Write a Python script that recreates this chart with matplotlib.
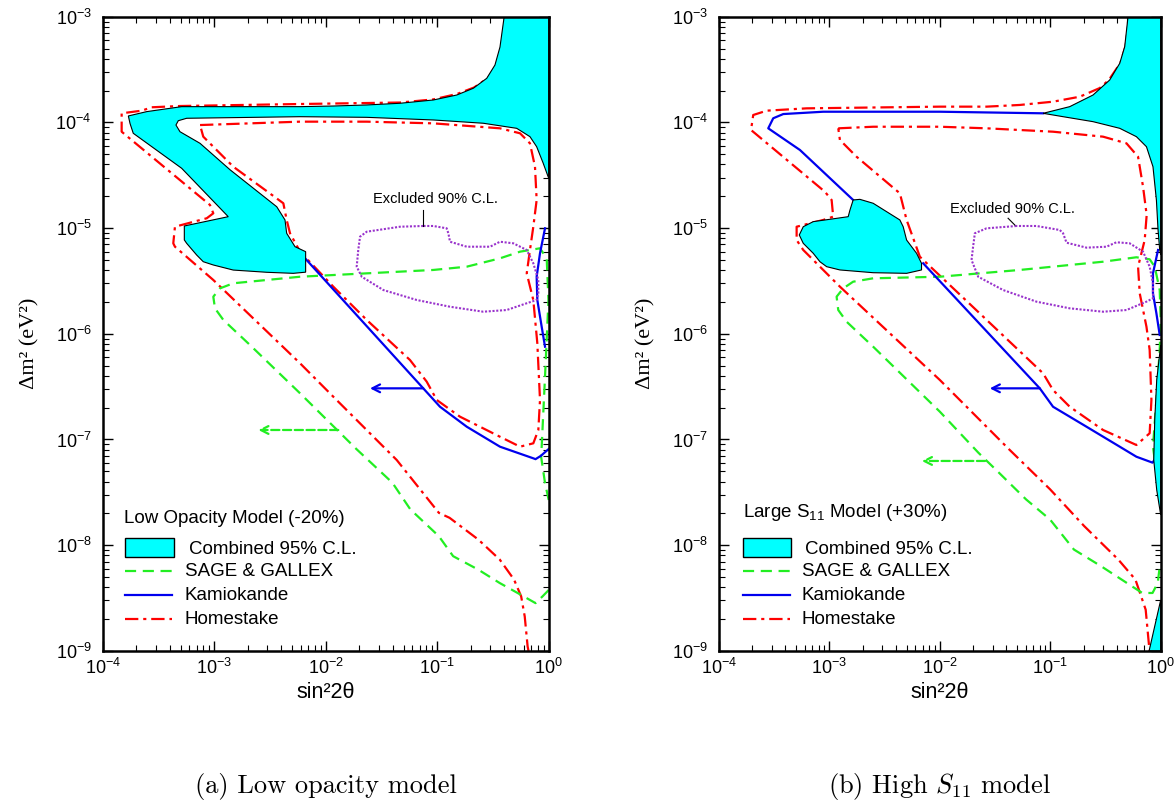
import numpy as np
import matplotlib
matplotlib.use("Agg")
import matplotlib.pyplot as plt
from matplotlib.patches import Rectangle
from matplotlib.lines import Line2D
from matplotlib.ticker import LogLocator, NullFormatter

plt.rcParams['font.family'] = ['Liberation Sans', 'DejaVu Sans']

# ---------------- data: (log10 sin^2 2theta, log10 dm^2 [eV^2]) ----------------
# Panel (a): low opacity model
A_COMBINED = [(-0.401,-3.0),(0.0,-3.0),(0.0,-4.529),(-0.049,-4.387),(-0.108,-4.230),(-0.168,-4.135),
              (-0.287,-4.056),(-0.587,-4.008),(-1.035,-3.977),(-1.632,-3.952),(-2.230,-3.946),(-3.247,-3.961),
              (-3.322,-3.984),(-3.343,-4.025),(-3.307,-4.088),(-3.127,-4.198),(-2.858,-4.448),(-2.439,-4.798),
              (-2.365,-4.923),(-2.350,-5.049),(-2.275,-5.176),(-2.180,-5.223),(-2.180,-5.417),(-2.291,-5.428),
              (-2.529,-5.418),(-2.829,-5.397),(-3.008,-5.349),(-3.098,-5.318),(-3.157,-5.255),(-3.247,-5.144),
              (-3.268,-5.112),(-3.268,-4.980),(-2.874,-4.892),(-3.292,-4.434),(-3.726,-4.103),(-3.755,-4.010),
              (-3.770,-3.939),(-3.605,-3.898),(-3.292,-3.851),(-2.230,-3.851),(-1.932,-3.845),(-1.632,-3.835),
              (-1.334,-3.819),(-1.035,-3.788),(-0.825,-3.741),(-0.676,-3.677),(-0.556,-3.583),(-0.482,-3.457),
              (-0.437,-3.287),(-0.401,-3.012)]
A_HOME_OUTER = [(-0.365,-3.0),(-0.410,-3.287),(-0.464,-3.457),(-0.544,-3.580),(-0.670,-3.670),(-0.822,-3.731),
                (-1.038,-3.783),(-1.334,-3.812),(-2.230,-3.826),(-3.307,-3.845),(-3.561,-3.857),(-3.650,-3.889),
                (-3.830,-3.914),(-3.830,-4.088),(-3.770,-4.141),(-3.038,-4.781),(-3.008,-4.860),(-3.067,-4.907),
                (-3.352,-4.987),(-3.367,-5.144),(-3.352,-5.176),(-3.008,-5.491),(-2.230,-6.279),(-1.932,-6.595),
                (-1.363,-7.194),(-0.985,-7.694),(-0.889,-7.741),(-0.632,-7.946),(-0.439,-8.136),(-0.311,-8.325),
                (-0.247,-8.484),(-0.215,-8.674),(-0.189,-8.958),(-0.181,-9.0)]
A_HOME_INNER = [(-3.127,-4.025),(-2.230,-3.993),(-1.632,-3.993),(-1.035,-4.009),(-0.437,-4.056),(-0.257,-4.103),
                (-0.168,-4.198),(-0.123,-4.419),(-0.108,-4.734),(-0.138,-4.987),(-0.168,-5.207),(-0.197,-5.428),
                (-0.138,-5.680),(-0.102,-6.090),(-0.078,-6.626),(-0.093,-6.910),(-0.138,-7.036),(-0.257,-7.068),
                (-0.437,-6.974),(-0.796,-6.784),(-1.004,-6.626),(-1.094,-6.453),(-1.244,-6.248),(-1.632,-5.869),
                (-1.932,-5.554),(-2.230,-5.223),(-2.320,-5.049),(-2.350,-4.923),(-2.380,-4.765),(-2.829,-4.419),
                (-3.098,-4.135),(-3.127,-4.025)]
A_KAM_MAIN = [(-2.204,-5.264),(-1.125,-6.516),(-0.975,-6.690),(-0.735,-6.879),(-0.437,-7.068),(-0.138,-7.178),
              (-0.118,-7.186),(-0.071,-7.155),(0.0,-7.090)]
A_KAM_RIGHT = [(-0.033,-5.002),(-0.078,-5.238),(-0.108,-5.460),(-0.102,-5.680),(-0.063,-5.933),(-0.033,-6.122)]
A_KAM_ARROW = [(-1.125,-6.516),(-1.603,-6.516)]
A_GALLIUM = [(0.0,-8.424),(-0.055,-8.484),(-0.118,-8.548),(-0.279,-8.452),(-0.439,-8.358),(-0.632,-8.231),
             (-0.857,-8.104),(-0.985,-7.915),(-1.241,-7.661),(-1.402,-7.409),(-1.723,-7.092),(-2.230,-6.563),
             (-2.679,-6.106),(-2.918,-5.869),(-2.993,-5.759),(-3.008,-5.649),(-2.948,-5.570),(-2.829,-5.522),
             (-2.230,-5.460),(-1.632,-5.428),(-1.035,-5.396),(-0.735,-5.365),(-0.437,-5.286),(-0.257,-5.223),
             (-0.078,-5.191),(-0.018,-5.286),(-0.002,-5.680),(-0.033,-6.406),(-0.063,-7.068),(-0.069,-7.156),
             (-0.033,-7.412),(0.0,-7.572)]
A_GALLIUM_ARROW = [(-1.887,-6.910),(-2.604,-6.910)]
A_EXCLUDED = [(-1.125,-4.980),(-1.334,-4.987),(-1.632,-5.034),(-1.692,-5.081),(-1.708,-5.207),(-1.722,-5.365),
              (-1.677,-5.460),(-1.483,-5.586),(-1.184,-5.680),(-0.885,-5.744),(-0.587,-5.791),(-0.377,-5.775),
              (-0.197,-5.711),(-0.108,-5.680),(-0.093,-5.617),(-0.093,-5.491),(-0.138,-5.333),(-0.197,-5.207),
              (-0.317,-5.144),(-0.437,-5.129),(-0.526,-5.176),(-0.735,-5.176),(-0.885,-5.129),(-0.900,-5.049),
              (-0.915,-5.002),(-1.035,-4.980),(-1.125,-4.980)]
A_EXCL_LABEL = (-1.020, -4.728)
A_EXCL_LEADER = [(-1.125,-4.829),(-1.125,-4.980)]

# Panel (b): high S11 model
B_COMB_UPPER = [(-0.296,-3.0),(0.0,-3.0),(0.0,-5.25),(-0.009,-5.207),(-0.024,-5.018),(-0.039,-4.734),
                (-0.070,-4.419),(-0.129,-4.230),(-0.220,-4.135),(-0.371,-4.056),(-0.613,-3.993),(-0.884,-3.946),
                (-1.065,-3.914),(-0.824,-3.851),(-0.613,-3.741),(-0.462,-3.599),(-0.371,-3.441),(-0.326,-3.284),
                (-0.296,-3.0)]
B_COMB_LOWER = [(-2.785,-4.734),(-2.724,-4.728),(-2.604,-4.765),(-2.362,-4.923),(-2.332,-4.987),(-2.301,-5.113),
                (-2.211,-5.238),(-2.166,-5.333),(-2.166,-5.396),(-2.301,-5.428),(-2.604,-5.422),(-2.905,-5.396),
                (-3.025,-5.365),(-3.086,-5.318),(-3.147,-5.238),(-3.237,-5.144),(-3.273,-5.065),(-3.237,-4.987),
                (-3.147,-4.939),(-2.830,-4.892),(-2.814,-4.829),(-2.785,-4.734)]
B_COMB_SLIVER = [(0.0,-6.106),(-0.036,-6.437),(-0.054,-6.815),(-0.063,-7.194),(-0.036,-7.478),(0.0,-7.714)]
B_COMB_WEDGE = [(-0.105,-9.0),(0.0,-8.518),(0.0,-9.0)]
B_HOME_OUTER = [(-0.285,-3.0),(-0.318,-3.277),(-0.365,-3.438),(-0.470,-3.599),(-0.552,-3.675),(-0.733,-3.757),
                (-0.975,-3.804),(-1.276,-3.835),(-1.577,-3.851),(-2.0,-3.851),(-3.206,-3.867),(-3.568,-3.889),
                (-3.690,-3.930),(-3.710,-4.072),(-3.674,-4.103),(-3.041,-4.656),(-2.980,-4.734),(-2.966,-4.892),
                (-3.056,-4.923),(-3.297,-4.987),(-3.297,-5.113),(-3.237,-5.207),(-2.905,-5.554),(-2.0,-6.437),
                (-1.374,-7.092),(-1.002,-7.471),(-0.693,-7.819),(-0.384,-8.136),(-0.229,-8.325),(-0.136,-8.610),
                (-0.105,-8.958),(-0.100,-9.0)]
B_HOME_INNER = [(-2.920,-4.056),(-2.604,-4.041),(-2.0,-4.041),(-1.577,-4.056),(-0.975,-4.088),(-0.522,-4.135),
                (-0.310,-4.198),(-0.205,-4.325),(-0.160,-4.608),(-0.127,-4.876),(-0.145,-5.113),(-0.205,-5.365),
                (-0.190,-5.617),(-0.129,-5.933),(-0.100,-6.153),(-0.084,-6.626),(-0.100,-6.941),(-0.220,-7.052),
                (-0.522,-6.910),(-0.824,-6.690),(-0.975,-6.532),(-1.065,-6.374),(-2.181,-5.271),(-2.301,-4.923),
                (-2.362,-4.671),(-2.754,-4.325),(-2.905,-4.166),(-2.920,-4.056)]
B_KAM_MAIN = [(-1.065,-3.914),(-2.0,-3.899),(-3.056,-3.899),(-3.418,-3.921),(-3.509,-3.961),(-3.554,-4.056),
              (-3.267,-4.261),(-2.785,-4.734)]
B_KAM_LOWER = [(-2.151,-5.333),(-1.095,-6.516),(-0.975,-6.690),(-0.672,-6.879),(-0.371,-7.068),(-0.220,-7.163),
               (-0.074,-7.219),(-0.045,-7.175)]
B_KAM_RIGHT = [(-0.024,-5.207),(-0.070,-5.428),(-0.070,-5.617),(-0.039,-5.806),(-0.009,-6.011)]
B_KAM_ARROW = [(-1.095,-6.516),(-1.548,-6.516)]
B_GALLIUM = [(-0.012,-8.231),(-0.027,-8.358),(-0.074,-8.452),(-0.167,-8.452),(-0.260,-8.389),(-0.538,-8.200),
             (-0.786,-8.041),(-1.002,-7.757),(-1.219,-7.567),(-1.466,-7.313),(-1.652,-7.124),(-2.0,-6.737),
             (-2.604,-6.122),(-2.844,-5.886),(-2.920,-5.775),(-2.935,-5.649),(-2.875,-5.570),(-2.785,-5.507),
             (-2.604,-5.475),(-2.0,-5.460),(-1.276,-5.396),(-0.824,-5.349),(-0.522,-5.318),(-0.220,-5.276),
             (-0.100,-5.295),(-0.054,-5.365),(-0.009,-5.586),(0.0,-5.869),(-0.009,-6.153),(-0.039,-6.626),
             (-0.070,-7.068),(-0.054,-7.194)]
B_GALLIUM_ARROW = [(-1.590,-7.203),(-2.163,-7.203)]
B_EXCLUDED = [(-1.306,-4.980),(-1.577,-5.002),(-1.683,-5.049),(-1.699,-5.176),(-1.713,-5.302),(-1.653,-5.460),
              (-1.427,-5.586),(-1.125,-5.696),(-0.824,-5.759),(-0.522,-5.791),(-0.310,-5.775),(-0.129,-5.696),
              (-0.070,-5.664),(-0.070,-5.522),(-0.100,-5.365),(-0.160,-5.223),(-0.281,-5.144),(-0.401,-5.134),
              (-0.491,-5.176),(-0.672,-5.185),(-0.853,-5.138),(-0.884,-5.049),(-0.914,-5.018),(-1.125,-4.980),
              (-1.306,-4.980)]
B_EXCL_LABEL = (-1.339, -4.822)
B_EXCL_LEADER = [(-1.382,-4.907),(-1.321,-4.971)]

LEGEND_LABELS = ['Combined 95% C.L.', 'SAGE & GALLEX', 'Kamiokande', 'Homestake']
A_TITLE = 'Low Opacity Model (-20%)'
B_TITLE = r'Large S$_{\mathdefault{11}}$ Model (+30%)'
A_CAPTION = '(a) Low opacity model'
B_CAPTION = r'(b) High $S_{11}$ model'
XLABEL = 'sin\u00b22\u03b8'
YLABEL = '\u0394m\u00b2 (eV\u00b2)'

# ---------------- styles ----------------
CYAN = '#00ffff'
GREEN = '#22ee22'
BLUE = '#0000ee'
RED = '#ff0000'
PURPLE = '#9933cc'
LW = 1.6
HOME_DASH = (6, 2.2, 1.4, 2.2)
GALL_DASH = (5, 3)


def xy(points):
    arr = np.asarray(points, dtype=float)
    return np.power(10.0, arr[:, 0]), np.power(10.0, arr[:, 1])


def line(ax, pts, color, dashes=None, lw=LW, ls='-', z=3):
    x, y = xy(pts)
    ln, = ax.plot(x, y, color=color, lw=lw, ls=ls, zorder=z, solid_joinstyle='round')
    if dashes is not None:
        ln.set_dashes(dashes)
    return ln


def fill(ax, pts):
    x, y = xy(pts)
    ax.fill(x, y, facecolor=CYAN, edgecolor='black', lw=0.8, zorder=3.5)


def arrow(ax, pts, color, ls='-'):
    xs, ys = xy(pts)
    ax.annotate('', xy=(xs[1], ys[1]), xytext=(xs[0], ys[0]),
                arrowprops=dict(arrowstyle='->,head_length=0.55,head_width=0.28', color=color,
                                lw=LW, ls=ls, shrinkA=0, shrinkB=0), zorder=4)


def setup(ax):
    ax.set_xscale('log')
    ax.set_yscale('log')
    ax.set_xlim(1e-4, 1)
    ax.set_ylim(1e-9, 1e-3)
    for a in (ax.xaxis, ax.yaxis):
        a.set_major_locator(LogLocator(base=10, numticks=20))
        a.set_minor_locator(LogLocator(base=10, subs=np.arange(2, 10), numticks=20))
        a.set_minor_formatter(NullFormatter())
    ax.tick_params(which='both', direction='in', top=True, right=True, labelsize=13)
    ax.tick_params(which='major', length=7, width=1.0)
    ax.tick_params(which='minor', length=4, width=0.8)
    ax.tick_params(axis='x', pad=5)
    ax.tick_params(axis='y', pad=8)
    for s in ax.spines.values():
        s.set_linewidth(1.8)
        s.set_zorder(6)


def legend(ax, title, tx, ty, px0, px1, py0, py1, ctx, hx1, lx, rows):
    fs = 13.5
    ax.text(tx, ty, title, transform=ax.transAxes, fontsize=fs, ha='left', va='center', zorder=7)
    ax.add_patch(Rectangle((px0, py0), px1 - px0, py1 - py0, transform=ax.transAxes,
                           facecolor=CYAN, edgecolor='black', lw=1.0, zorder=7))
    ax.text(ctx, rows[0], LEGEND_LABELS[0], transform=ax.transAxes, fontsize=fs, ha='left', va='center')
    specs = [(GREEN, GALL_DASH), (BLUE, None), (RED, HOME_DASH)]
    for (col, d), yy, lab in zip(specs, rows[1:], LEGEND_LABELS[1:]):
        ln = Line2D([px0, hx1], [yy, yy], transform=ax.transAxes, color=col, lw=LW, zorder=7)
        if d is not None:
            ln.set_dashes(d)
        ax.add_line(ln)
        ax.text(lx, yy, lab, transform=ax.transAxes, fontsize=fs, ha='left', va='center')


W, H = 1176, 806
fig = plt.figure(figsize=(W / 100, H / 100), dpi=100)
axA = fig.add_axes([102.7 / W, 1 - 650.9 / H, 446.0 / W, 634.2 / H])
axB = fig.add_axes([719.0 / W, 1 - 650.9 / H, 441.7 / W, 634.2 / H])

for ax in (axA, axB):
    setup(ax)

# panel (a)
fill(axA, A_COMBINED)
line(axA, A_HOME_OUTER, RED, HOME_DASH)
line(axA, A_HOME_INNER, RED, HOME_DASH)
line(axA, A_GALLIUM, GREEN, GALL_DASH)
line(axA, A_KAM_MAIN, BLUE)
line(axA, A_KAM_RIGHT, BLUE)
line(axA, A_EXCLUDED, PURPLE, (1.0, 0.8), lw=1.5)
line(axA, A_EXCL_LEADER, 'black', lw=0.8)
arrow(axA, A_KAM_ARROW, BLUE)
arrow(axA, A_GALLIUM_ARROW, GREEN, ls='--')
axA.text(10 ** A_EXCL_LABEL[0], 10 ** A_EXCL_LABEL[1], 'Excluded 90% C.L.', fontsize=10.5,
         ha='center', va='center')

# panel (b)
fill(axB, B_COMB_UPPER)
fill(axB, B_COMB_LOWER)
fill(axB, B_COMB_SLIVER)
fill(axB, B_COMB_WEDGE)
line(axB, B_HOME_OUTER, RED, HOME_DASH)
line(axB, B_HOME_INNER, RED, HOME_DASH)
line(axB, B_GALLIUM, GREEN, GALL_DASH)
line(axB, B_KAM_MAIN, BLUE)
line(axB, B_KAM_LOWER, BLUE)
line(axB, B_KAM_RIGHT, BLUE)
line(axB, B_EXCLUDED, PURPLE, (1.0, 0.8), lw=1.5)
line(axB, B_EXCL_LEADER, 'black', lw=0.8)
arrow(axB, B_KAM_ARROW, BLUE)
arrow(axB, B_GALLIUM_ARROW, GREEN, ls='--')
axB.text(10 ** B_EXCL_LABEL[0], 10 ** B_EXCL_LABEL[1], 'Excluded 90% C.L.', fontsize=10.5,
         ha='center', va='center')

# legends
rows = [0.1599, 0.1255, 0.0875, 0.0501]
legend(axA, A_TITLE, 0.0482, 0.2089, 0.0498, 0.1596, 0.1482, 0.1783, 0.1924, 0.1558, 0.1843, rows)
legend(axB, B_TITLE, 0.0534, 0.2178, 0.0534, 0.1641, 0.1482, 0.1783, 0.1947, 0.1616, 0.1869, rows)

# axis labels and captions
for cx, ylx in ((325.7, 30.0), (940.0, 646.3)):
    fig.text(cx / W, 1 - 692 / H, XLABEL, fontsize=15.5, ha='center', va='center')
    fig.text(ylx / W, 1 - 343 / H, YLABEL, fontsize=16, rotation=90, ha='center', va='center',
             family=['Liberation Serif', 'DejaVu Serif'])

fig.text(325.7 / W, 1 - 787 / H, A_CAPTION, fontsize=19, family='cmr10', ha='center', va='center')
fig.text(940.0 / W, 1 - 787 / H, B_CAPTION, fontsize=19, family='cmr10', math_fontfamily='cm',
         ha='center', va='center')

fig.savefig('out.png', dpi=100)
